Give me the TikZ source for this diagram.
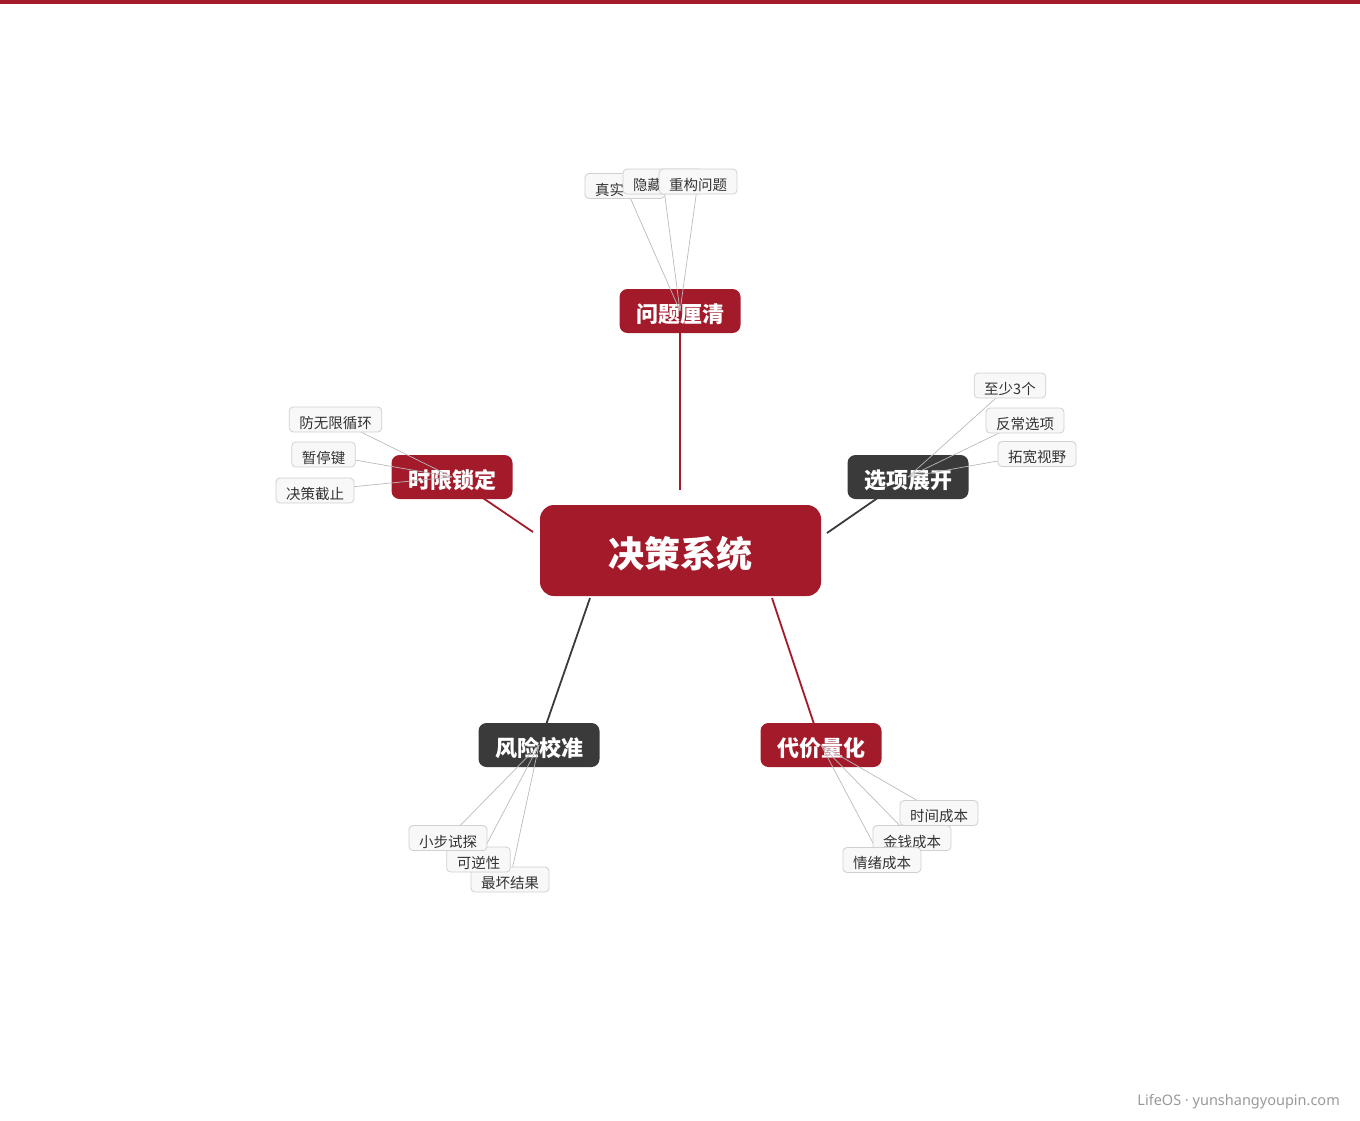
\documentclass[tikz,border=0pt]{standalone}
\usepackage{fontspec}
\setmainfont{Noto Sans CJK SC}
\newfontfamily\footfont{Noto Sans}
\newcommand\lowr[1]{\raisebox{-3.5pt}[\height][\depth]{#1}}
\definecolor{brand}{HTML}{A31B2B}
\definecolor{darkb}{HTML}{3A3A3A}
\definecolor{leaffill}{HTML}{F8F8F8}
\definecolor{leafline}{HTML}{D0D0D0}
\definecolor{leaftext}{HTML}{333333}
\definecolor{thin}{HTML}{BBBBBB}
\definecolor{foot}{HTML}{999999}
\begin{document}
\begin{tikzpicture}[x=1pt,y=-1pt,
  centerbox/.style={fill=brand,rounded corners=14pt,minimum width=281pt,minimum height=91pt,inner sep=0pt,text=white,font=\fontsize{36}{40}\selectfont\bfseries},
  branchred/.style={fill=brand,rounded corners=8pt,minimum width=121pt,minimum height=44pt,inner sep=0pt,text=white,font=\fontsize{22}{26}\selectfont\bfseries},
  branchdark/.style={branchred,fill=darkb},
  leafbox/.style={fill=leaffill,draw=leafline,line width=0.8pt,rounded corners=4pt,minimum height=25pt,inner xsep=10pt,inner ysep=0pt,text=leaftext,font=\fontsize{14.5}{16}\selectfont},
  cutleaf/.style={leafbox,text width=60pt,align=left},
  mainred/.style={draw=brand,line width=1.8pt},
  maindark/.style={draw=darkb,line width=1.8pt},
  leafedge/.style={draw=thin,line width=0.7pt}
]
\useasboundingbox (0,0) rectangle (1360,1120);
\fill[brand] (0,0) rectangle (1360,4);

% connector free ends near the centre node
\coordinate (eT) at (680,490);
\coordinate (eL) at (533,532);
\coordinate (eR) at (827,533);
\coordinate (eBL) at (590,598);
\coordinate (eBR) at (772,598);

% branch hubs (centres)
\coordinate (hT) at (680,311);
\coordinate (hL) at (452,477);
\coordinate (hR) at (908,477);
\coordinate (hBL) at (539,745);
\coordinate (hBR) at (821,745);

\draw[mainred] (eT) -- (hT);
\draw[mainred] (eL) -- (hL);
\draw[maindark] (eR) -- (hR);
\draw[maindark] (eBL) -- (hBL);
\draw[mainred] (eBR) -- (hBR);

\node[centerbox] (c) at (680.5,550.5) {\lowr{决策系统}};

\node[branchred] (b1) at (hT) {\lowr{问题厘清}};
\node[branchred] (b2) at (hL) {\lowr{时限锁定}};
\node[branchdark] (b3) at (hR) {\lowr{选项展开}};
\node[branchdark] (b4) at (hBL) {\lowr{风险校准}};
\node[branchred] (b5) at (hBR) {\lowr{代价量化}};

% leaf coordinates
\coordinate (p11) at (625,186);
\coordinate (p12) at (663,181.5);
\coordinate (p13) at (698,181.5);
\coordinate (p21) at (335.5,419.5);
\coordinate (p22) at (323.5,454.5);
\coordinate (p23) at (315,490.5);
\coordinate (p31) at (1010,385.5);
\coordinate (p32) at (1025,420.5);
\coordinate (p33) at (1037,454);
\coordinate (p41) at (448,838);
\coordinate (p42) at (478.5,859.5);
\coordinate (p43) at (510,879.5);
\coordinate (p51) at (939,813);
\coordinate (p52) at (912,838);
\coordinate (p53) at (882,860);

\foreach \i in {1,2,3} {
  \draw[leafedge] (p1\i) -- (b1.center);
  \draw[leafedge] (p2\i) -- (b2.center);
  \draw[leafedge] (p3\i) -- (b3.center);
  \draw[leafedge] (p4\i) -- (b4.center);
  \draw[leafedge] (p5\i) -- (b5.center);
}

\node[cutleaf] (l11) at (p11) {\lowr{真实}};
\node[cutleaf] (l12) at (p12) {\lowr{隐藏}};
\node[leafbox] (l13) at (p13) {\lowr{重构问题}};
\node[leafbox] (l21) at (p21) {\lowr{防无限循环}};
\node[leafbox] (l22) at (p22) {\lowr{暂停键}};
\node[leafbox] (l23) at (p23) {\lowr{决策截止}};
\node[leafbox] (l31) at (p31) {\lowr{至少3个}};
\node[leafbox] (l32) at (p32) {\lowr{反常选项}};
\node[leafbox] (l33) at (p33) {\lowr{拓宽视野}};
\node[leafbox] (l43) at (p43) {\lowr{最坏结果}};
\node[leafbox] (l42) at (p42) {\lowr{可逆性}};
\node[leafbox] (l41) at (p41) {\lowr{小步试探}};
\node[leafbox] (l51) at (p51) {\lowr{时间成本}};
\node[leafbox] (l52) at (p52) {\lowr{金钱成本}};
\node[leafbox] (l53) at (p53) {\lowr{情绪成本}};

\node[anchor=east,text=foot,font=\footfont\fontsize{14.5}{16}\selectfont,inner sep=0pt] (ft) at (1340,1102) {LifeOS · yunshangyoupin.com};
\end{tikzpicture}
\end{document}
